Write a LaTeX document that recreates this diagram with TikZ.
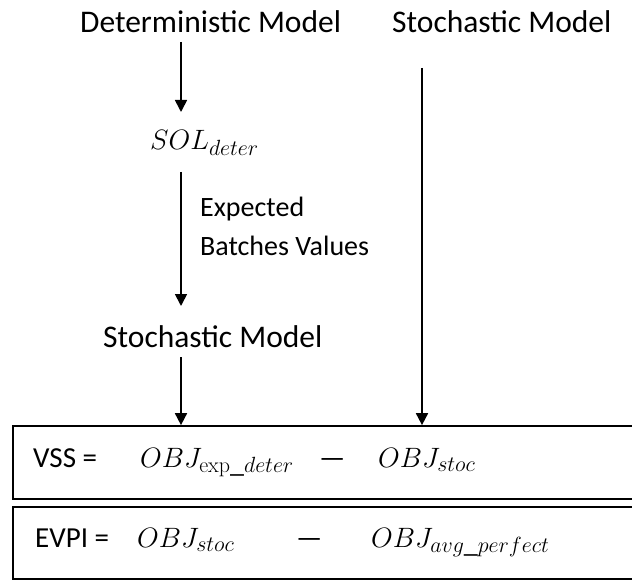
\RequirePackage{fix-cm}
\documentclass[tikz,border=0pt]{standalone}
\usepackage[no-math]{fontspec}
\setmainfont{Carlito}
\DeclareMathSizes{28}{28}{22}{17}
\usetikzlibrary{arrows.meta}
\begin{document}
\begin{tikzpicture}[x=1pt,y=-1pt,
  big/.style={inner sep=0pt,anchor=base west,font=\fontsize{31.5}{34}\selectfont},
  mid/.style={inner sep=0pt,anchor=base west,font=\fontsize{28}{32}\selectfont},
  boxtxt/.style={inner sep=0pt,anchor=base west,font=\fontsize{29}{32}\selectfont},
  mth/.style={inner sep=0pt,anchor=base west,font=\fontsize{28}{32}\selectfont},
  flow/.style={draw,line width=1.7pt,-{Triangle[length=12pt,width=12pt]}},
  resbox/.style={draw,line width=1.7pt,minimum width=637pt,inner sep=0pt}]
\useasboundingbox (0,0) rectangle (632,580);

% model chain
\node[big] (det) at (80,33) {Deterministic Model};
\node[big] (stocA) at (392,33) {Stochastic Model};
\node[mth] (sol) at (150,150) {$SOL_{deter}$};
\node[mid] (exp1) at (200,217) {Expected};
\node[mid] (exp2) at (200,255) {Batches Values};
\node[big] (stocB) at (103,347) {Stochastic Model};

% result boxes (they run on past the right edge of the page)
\node[resbox,minimum height=73pt] (vss) at (331.5,462.5) {};
\node[resbox,minimum height=72pt] (evpi) at (331.5,543) {};

\node[boxtxt] (vlab) at (33,467) {VSS =};
\node[mth] (v1) at (140,467) {$OBJ_{\mathrm{exp}\_deter}$};
\node[boxtxt] (vm) at (319,467) {—};
\node[mth] (v2) at (378,467) {$OBJ_{stoc}$};

\node[boxtxt] (elab) at (35,547) {EVPI =};
\node[mth] (e1) at (137,547) {$OBJ_{stoc}$};
\node[boxtxt] (em) at (296,547) {—};
\node[mth] (e2) at (371,547) {$OBJ_{avg\_perfect}$};

% connectors
\coordinate (a1s) at (181,42);
\coordinate (a1e) at (181,112);
\draw[flow] (a1s) -- (a1e);
\coordinate (a2s) at (181,172);
\coordinate (a2e) at (181,306);
\draw[flow] (a2s) -- (a2e);
\coordinate (a3s) at (181,357);
\draw[flow] (a3s) -- (a3s |- vss.north);
\coordinate (a4s) at (422,68);
\draw[flow] (a4s) -- (a4s |- vss.north);
\end{tikzpicture}
\end{document}
